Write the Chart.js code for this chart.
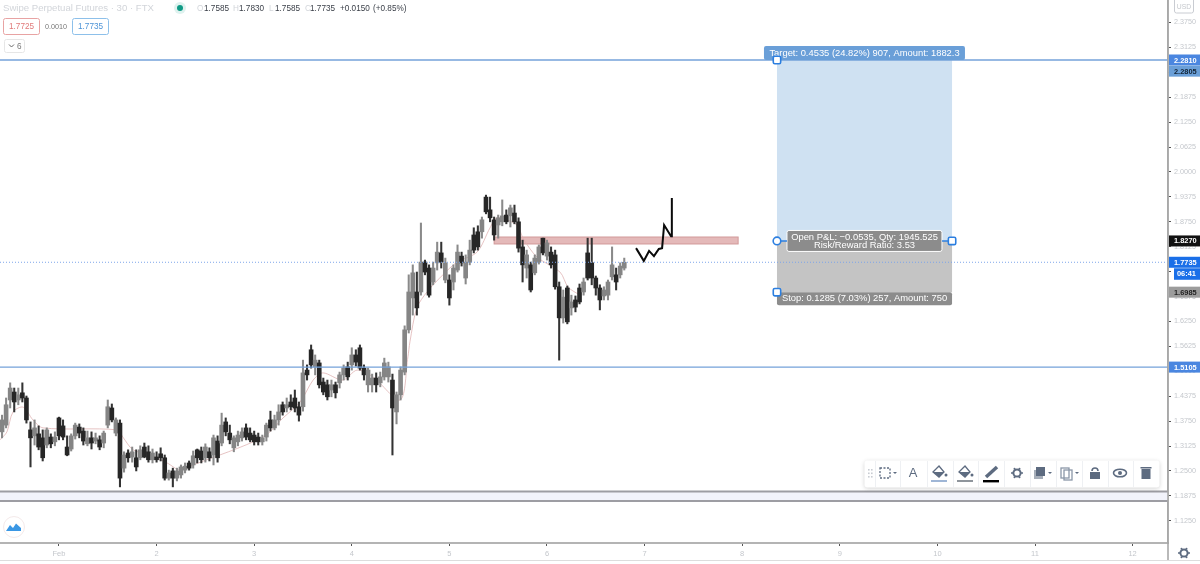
<!DOCTYPE html>
<html><head><meta charset="utf-8">
<style>html,body{margin:0;padding:0;background:#fff;overflow:hidden}canvas{display:block}</style>
<script src="https://cdn.jsdelivr.net/npm/chart.js@4"></script>
</head><body><canvas id="c" width="1200" height="564"></canvas>
<script>
const opens=[1.348,1.365,1.428,1.448,1.428,1.446,1.433,1.353,1.338,1.343,1.333,1.315,1.335,1.323,1.383,1.363,1.310,1.305,1.338,1.360,1.350,1.318,1.333,1.325,1.328,1.320,1.365,1.408,1.345,1.370,1.257,1.295,1.285,1.283,1.283,1.310,1.298,1.278,1.285,1.293,1.283,1.232,1.250,1.232,1.240,1.252,1.270,1.265,1.303,1.300,1.283,1.298,1.290,1.325,1.320,1.373,1.345,1.308,1.323,1.333,1.358,1.345,1.340,1.335,1.323,1.335,1.378,1.358,1.378,1.416,1.408,1.423,1.433,1.411,1.411,1.503,1.554,1.511,1.521,1.473,1.466,1.453,1.466,1.471,1.491,1.511,1.516,1.541,1.559,1.508,1.466,1.466,1.483,1.471,1.486,1.486,1.478,1.398,1.441,1.498,1.604,1.684,1.699,1.699,1.774,1.759,1.724,1.772,1.797,1.729,1.729,1.724,1.754,1.789,1.734,1.774,1.842,1.850,1.850,1.937,1.905,1.880,1.867,1.875,1.892,1.890,1.897,1.875,1.812,1.759,1.767,1.747,1.774,1.834,1.789,1.799,1.792,1.712,1.634,1.709,1.659,1.679,1.709,1.699,1.797,1.772,1.734,1.709,1.689,1.691,1.737,1.742,1.742,1.759];
const closes=[1.378,1.416,1.458,1.423,1.441,1.433,1.378,1.333,1.358,1.310,1.283,1.353,1.318,1.335,1.338,1.335,1.290,1.338,1.365,1.345,1.325,1.333,1.320,1.333,1.310,1.345,1.411,1.378,1.378,1.232,1.290,1.283,1.298,1.260,1.303,1.285,1.278,1.295,1.278,1.283,1.232,1.245,1.232,1.250,1.260,1.262,1.257,1.288,1.283,1.278,1.310,1.283,1.333,1.283,1.365,1.348,1.328,1.333,1.340,1.348,1.335,1.328,1.323,1.323,1.333,1.365,1.358,1.378,1.398,1.398,1.416,1.411,1.408,1.390,1.496,1.491,1.516,1.528,1.466,1.448,1.436,1.466,1.446,1.491,1.508,1.486,1.541,1.523,1.508,1.491,1.503,1.483,1.466,1.486,1.521,1.511,1.408,1.441,1.503,1.604,1.699,1.747,1.659,1.774,1.749,1.691,1.759,1.799,1.774,1.772,1.684,1.759,1.799,1.772,1.774,1.804,1.804,1.812,1.880,1.900,1.885,1.842,1.885,1.890,1.875,1.910,1.875,1.809,1.767,1.792,1.704,1.784,1.812,1.797,1.822,1.767,1.712,1.634,1.686,1.624,1.674,1.661,1.674,1.724,1.734,1.734,1.709,1.679,1.704,1.724,1.767,1.724,1.764,1.7735];
const highs=[1.390,1.433,1.471,1.458,1.458,1.471,1.438,1.373,1.378,1.363,1.353,1.358,1.343,1.348,1.385,1.378,1.338,1.343,1.370,1.368,1.358,1.350,1.348,1.345,1.338,1.350,1.428,1.418,1.383,1.378,1.298,1.303,1.310,1.303,1.313,1.320,1.313,1.305,1.298,1.308,1.290,1.252,1.257,1.257,1.265,1.270,1.275,1.300,1.305,1.310,1.318,1.308,1.340,1.338,1.395,1.383,1.365,1.338,1.350,1.358,1.368,1.358,1.350,1.345,1.340,1.370,1.400,1.390,1.416,1.423,1.433,1.441,1.453,1.423,1.528,1.516,1.566,1.541,1.528,1.483,1.478,1.478,1.473,1.498,1.516,1.523,1.559,1.554,1.566,1.516,1.508,1.493,1.496,1.498,1.533,1.523,1.493,1.448,1.511,1.614,1.742,1.767,1.749,1.872,1.779,1.767,1.774,1.824,1.824,1.784,1.742,1.767,1.817,1.799,1.792,1.829,1.860,1.865,1.887,1.942,1.937,1.887,1.892,1.930,1.905,1.917,1.917,1.885,1.829,1.804,1.774,1.792,1.817,1.834,1.829,1.812,1.804,1.724,1.704,1.714,1.691,1.689,1.719,1.734,1.834,1.834,1.739,1.717,1.712,1.729,1.812,1.759,1.772,1.784];
const lows=[1.333,1.358,1.408,1.398,1.416,1.423,1.370,1.260,1.315,1.303,1.275,1.308,1.308,1.313,1.328,1.328,1.288,1.300,1.330,1.333,1.315,1.313,1.305,1.318,1.303,1.308,1.358,1.373,1.338,1.210,1.247,1.272,1.272,1.250,1.278,1.283,1.272,1.270,1.272,1.275,1.227,1.227,1.210,1.225,1.232,1.245,1.252,1.257,1.270,1.270,1.272,1.275,1.265,1.272,1.313,1.338,1.318,1.298,1.313,1.325,1.328,1.323,1.315,1.315,1.315,1.325,1.350,1.353,1.365,1.390,1.398,1.403,1.398,1.375,1.400,1.478,1.508,1.491,1.458,1.441,1.428,1.436,1.433,1.458,1.478,1.478,1.503,1.513,1.503,1.478,1.448,1.448,1.448,1.461,1.478,1.473,1.290,1.368,1.428,1.491,1.596,1.641,1.641,1.691,1.742,1.686,1.717,1.754,1.759,1.722,1.666,1.704,1.749,1.764,1.719,1.767,1.797,1.804,1.834,1.895,1.875,1.829,1.834,1.865,1.870,1.862,1.870,1.799,1.724,1.734,1.699,1.742,1.769,1.792,1.779,1.759,1.706,1.528,1.621,1.619,1.641,1.649,1.669,1.691,1.729,1.717,1.691,1.654,1.679,1.679,1.729,1.704,1.734,1.754];
const maIndex=[-0.5,1.2,2.7,5.2,7.6,10.1,28.3,29.7,32.2,36.4,40.6,43.8,47,64.2,69.1,73.3,76.5,78.9,83.8,87.3,91.2,97.9,99.8,100.3,102,104.5,108.4,111.9,116.8,120,121.7,126.6,128.1,131.5,137.2,139.2,142.1];
const maValues=[1.328,1.348,1.398,1.410,1.378,1.358,1.353,1.335,1.303,1.290,1.270,1.252,1.265,1.335,1.383,1.423,1.478,1.496,1.478,1.503,1.486,1.428,1.536,1.574,1.659,1.699,1.742,1.774,1.799,1.860,1.885,1.867,1.834,1.787,1.749,1.711,1.691];
const sketchIndex=[155.9,157.8,159.1,160.3,161.5,162.3,162.8,164.5,164.7];
const sketchValues=[1.809,1.777,1.802,1.789,1.807,1.809,1.867,1.839,1.935];
const dayIndex=[14,38,62,86,110,134,158,182,206,230,254,278];
const dayLabels=['Feb','2','3','4','5','6','7','8','9','10','11','12'];
const yTickValues=[2.375,2.3125,2.25,2.1875,2.125,2.0625,2,1.9375,1.875,1.8125,1.75,1.6875,1.625,1.5625,1.5,1.4375,1.375,1.3125,1.25,1.1875,1.125];
const levelLines=[2.2810,1.5105];
const lastPrice=1.7735;
const bandLevels=[1.1984,1.1746];
const zoneLevels=[1.8369,1.8194], zoneRange=[121,181];
const toolRange=[190.55,233.6];
const toolLevels=[2.2810,1.8270,1.6985];
const targetText='Target: 0.4535 (24.82%) 907, Amount: 1882.3';
const stopText='Stop: 0.1285 (7.03%) 257, Amount: 750';
const pnlText='Open P&L: \u22120.0535, Qty: 1945.525';
const ratioText='Risk/Reward Ratio: 3.53';
const priceTags=[['2.2810',2.2810,'#4a86e0','#fff'],['2.2805',2.2530,'#6a9fd8','#123'],['1.8270',1.8270,'#111','#fff'],['1.7735',1.7735,'#1a6fe8','#fff'],['1.6985',1.6985,'#9c9c9c','#222'],['1.5105',1.5105,'#4a86e0','#fff']];
const FONT='"Liberation Sans",sans-serif';
const UP='#858585',DOWN='#262626';

function rr(ctx,x,y,w,h,r){ctx.beginPath();ctx.roundRect(x,y,w,h,r);}
function icon(ctx,x,y,kind){
  ctx.save();ctx.fillStyle='#5d6b80';ctx.strokeStyle='#5d6b80';ctx.lineWidth=1.3;
  if(kind==='rect'){ctx.setLineDash([2,1.5]);ctx.strokeRect(x-5,y-5,10,10);ctx.setLineDash([]);ctx.beginPath();ctx.moveTo(x+8,y-1);ctx.lineTo(x+12,y-1);ctx.lineTo(x+10,y+1);ctx.fill();}
  if(kind==='bucket'){ctx.beginPath();ctx.moveTo(x-6,y);ctx.lineTo(x,y-6);ctx.lineTo(x+5,y);ctx.lineTo(x,y+5);ctx.closePath();ctx.stroke();ctx.beginPath();ctx.moveTo(x-6,y);ctx.lineTo(x+5,y);ctx.lineTo(x,y+5);ctx.closePath();ctx.fill();ctx.beginPath();ctx.arc(x+7,y+3,1.5,0,7);ctx.fill();}
  if(kind==='pencil'){ctx.lineWidth=3.5;ctx.beginPath();ctx.moveTo(x-6,y+5);ctx.lineTo(x+5,y-5);ctx.stroke();}
  if(kind==='gear'){ctx.lineWidth=2;ctx.beginPath();ctx.arc(x,y,3.6,0,7);ctx.stroke();for(let a=0;a<6;a++){const t=a*Math.PI/3;ctx.beginPath();ctx.arc(x+5*Math.cos(t),y+5*Math.sin(t),1,0,7);ctx.fill();}}
  if(kind==='layers'){ctx.globalAlpha=.55;ctx.fillRect(x-6,y-3,9,9);ctx.globalAlpha=1;ctx.fillRect(x-4,y-6,9,9);ctx.beginPath();ctx.moveTo(x+8,y-1);ctx.lineTo(x+12,y-1);ctx.lineTo(x+10,y+1);ctx.fill();}
  if(kind==='copy'){ctx.strokeStyle='#8b97a8';ctx.strokeRect(x-6,y-5,8,10);ctx.strokeRect(x-3,y-3,8,10);ctx.fillStyle='#5d6b80';ctx.beginPath();ctx.moveTo(x+8,y-1);ctx.lineTo(x+12,y-1);ctx.lineTo(x+10,y+1);ctx.fill();}
  if(kind==='lock'){ctx.fillRect(x-5,y-1,10,7);ctx.beginPath();ctx.arc(x,y-2,3,Math.PI,0);ctx.lineWidth=1.6;ctx.stroke();}
  if(kind==='eye'){ctx.lineWidth=1.6;ctx.beginPath();ctx.ellipse(x,y,6.5,3.8,0,0,7);ctx.stroke();ctx.beginPath();ctx.arc(x,y,2,0,7);ctx.fill();}
  if(kind==='trash'){ctx.fillRect(x-4.5,y-4,9,10);ctx.fillRect(x-5.5,y-6,11,1.5);}
  ctx.restore();
}
const overlay={id:'overlay',
  beforeDatasetsDraw(ch){
    const c=ch.ctx,X=ch.scales.x,Y=ch.scales.y,A=ch.chartArea;
    c.save();
    c.fillStyle='#f2f3fb';c.fillRect(A.left,Y.getPixelForValue(bandLevels[0]),A.width,Y.getPixelForValue(bandLevels[1])-Y.getPixelForValue(bandLevels[0]));
    const zx=X.getPixelForValue(zoneRange[0]),zw=X.getPixelForValue(zoneRange[1])-zx,zy=Y.getPixelForValue(zoneLevels[0]),zh=Y.getPixelForValue(zoneLevels[1])-zy;
    c.fillStyle='#e4b9b9';c.fillRect(zx,zy,zw,zh);c.strokeStyle='#d29a9a';c.lineWidth=1;c.strokeRect(zx,zy,zw,zh);
    const lx=X.getPixelForValue(toolRange[0]),rx=X.getPixelForValue(toolRange[1]),ty=Y.getPixelForValue(toolLevels[0]),my=Y.getPixelForValue(toolLevels[1]),by=Y.getPixelForValue(toolLevels[2]);
    c.fillStyle='#cfe1f2';c.fillRect(lx,ty,rx-lx,my-ty);
    c.fillStyle='#c4c4c4';c.fillRect(lx,my,rx-lx,by-my);
    c.restore();
  },
  afterDatasetsDraw(ch){
    const c=ch.ctx,X=ch.scales.x,Y=ch.scales.y,A=ch.chartArea;
    c.save();
    bandLevels.forEach(v=>{const y=Y.getPixelForValue(v);c.strokeStyle='#9d9da3';c.lineWidth=2;c.beginPath();c.moveTo(A.left,y);c.lineTo(A.right,y);c.stroke();});
    levelLines.forEach(v=>{const y=Y.getPixelForValue(v);c.strokeStyle='#74a2da';c.lineWidth=1.3;c.beginPath();c.moveTo(A.left,y);c.lineTo(A.right,y);c.stroke();});
    let y=Y.getPixelForValue(lastPrice);c.strokeStyle='#7ea6ea';c.lineWidth=1;c.setLineDash([1,2]);c.beginPath();c.moveTo(A.left,y);c.lineTo(A.right,y);c.stroke();c.setLineDash([]);
    const lx=X.getPixelForValue(toolRange[0]),rx=X.getPixelForValue(toolRange[1]),ty=Y.getPixelForValue(toolLevels[0]),my=Y.getPixelForValue(toolLevels[1]),by=Y.getPixelForValue(toolLevels[2]),cx=(lx+rx)/2;
    c.textAlign='center';c.textBaseline='middle';
    c.fillStyle='#6a9fd8';rr(c,lx-13,ty-14,201,14,2);c.fill();
    c.fillStyle='#fff';c.font='9.4px '+FONT;c.fillText(targetText,cx,ty-6.5);
    c.fillStyle='#8c8c8c';rr(c,lx,by,rx-lx,13,2);c.fill();
    c.fillStyle='#fff';c.fillText(stopText,cx,by+6.5);
    c.fillStyle='#8c8c8c';c.strokeStyle='#fff';c.lineWidth=1;rr(c,lx+10,my-10.5,155,21,2);c.fill();c.stroke();
    c.fillStyle='#fff';c.fillText(pnlText,cx,my-4);c.fillText(ratioText,cx,my+4);
    c.strokeStyle='#2c7fe0';c.lineWidth=1.6;c.fillStyle='#fff';
    c.beginPath();c.moveTo(lx,my);c.lineTo(lx+10,my);c.moveTo(rx-10,my);c.lineTo(rx,my);c.stroke();
    c.beginPath();c.arc(lx,my,3.8,0,7);c.fill();c.stroke();
    [[lx,ty],[lx,by],[rx,my]].forEach(p=>{rr(c,p[0]-3.7,p[1]-3.7,7.4,7.4,1.5);c.fill();c.stroke();});
    c.restore();
  },
  afterDraw(ch){
    const c=ch.ctx,Y=ch.scales.y,A=ch.chartArea;
    c.save();
    c.strokeStyle='#a8a8a8';c.lineWidth=1.6;c.beginPath();c.moveTo(A.right,0);c.lineTo(A.right,561);c.stroke();
    c.strokeStyle='#dddddd';c.lineWidth=1;c.beginPath();c.moveTo(0,560.5);c.lineTo(1200,560.5);c.stroke();
    c.font='bold 7.4px '+FONT;c.textBaseline='middle';c.textAlign='left';
    priceTags.forEach(t=>{const y=Y.getPixelForValue(t[1]);c.fillStyle=t[2];c.fillRect(A.right+1,y-5.5,32,11);c.fillStyle=t[3];c.fillText(t[0],1174,y+.5);});
    const ly=Y.getPixelForValue(lastPrice);c.fillStyle='#1a6fe8';c.fillRect(1174,ly+6,26,11.5);c.fillStyle='#fff';c.fillText('06:41',1177,ly+12);
    c.font='6.8px '+FONT;c.strokeStyle='#c9ccd2';c.fillStyle='#c4c7cc';c.lineWidth=1;rr(c,1174.5,-2,19,15,2);c.stroke();c.textAlign='center';c.fillText('USD',1184,7.5);
    icon(c,1184,553,'gear');
    // header
    c.textAlign='left';c.textBaseline='middle';
    c.font='9.6px '+FONT;c.fillStyle='#d2d5da';c.fillText('Swipe Perpetual Futures \u00b7 30 \u00b7 FTX',3,8.5);
    c.fillStyle='#dff2ef';c.beginPath();c.arc(180,8,6,0,7);c.fill();c.fillStyle='#0f9a85';c.beginPath();c.arc(180,8,3,0,7);c.fill();
    c.font='8.2px '+FONT;
    [['O','1.7585',197,204],['H','1.7830',233,239],['L','1.7585',269,275],['C','1.7735',305,310]].forEach(g=>{c.fillStyle='#d2d5da';c.fillText(g[0],g[2],8.5);c.fillStyle='#3a3f48';c.fillText(g[1],g[3],8.5);});
    c.fillStyle='#3a3f48';c.fillText('+0.0150',340,8.5);c.fillText('(+0.85%)',373,8.5);
    c.lineWidth=1;
    c.strokeStyle='#e8a3a3';rr(c,3.5,18.5,36,16,2);c.stroke();c.fillStyle='#e07a7a';c.fillText('1.7725',9,27);
    c.fillStyle='#777';c.font='7.2px '+FONT;c.fillText('0.0010',45,27);c.font='8.2px '+FONT;
    c.strokeStyle='#8dc0ea';rr(c,72.5,18.5,36,16,2);c.stroke();c.fillStyle='#4d93d6';c.fillText('1.7735',78,27);
    c.strokeStyle='#e6e6e6';rr(c,4.5,39.5,20,13,2);c.stroke();c.fillStyle='#777';c.fillText('6',17,46.5);
    c.strokeStyle='#666';c.beginPath();c.moveTo(9,44.5);c.lineTo(11.5,47);c.lineTo(14,44.5);c.stroke();
    // logo
    c.fillStyle='#fff';c.strokeStyle='#f3e9e9';c.beginPath();c.arc(14,527,10.5,0,7);c.fill();c.stroke();
    c.fillStyle='#3a97e4';c.beginPath();c.moveTo(6,531);c.lineTo(10,525);c.lineTo(13,528);c.lineTo(16,523.5);c.lineTo(21,528);c.lineTo(21,531);c.closePath();c.fill();
    // toolbar
    c.shadowColor='rgba(0,0,0,.18)';c.shadowBlur=4;c.shadowOffsetY=1;c.fillStyle='#fff';rr(c,864.5,460.5,295,27,3);c.fill();c.shadowColor='transparent';c.shadowBlur=0;c.shadowOffsetY=0;
    c.strokeStyle='#eef0f3';c.lineWidth=1;[875,900,927,953,978,1004,1030,1056,1082,1108,1133].forEach(x=>{c.beginPath();c.moveTo(x+.5,461);c.lineTo(x+.5,487);c.stroke();});
    c.fillStyle='#c8ccd2';for(let i=0;i<3;i++){c.fillRect(868,469+i*3.5,1.6,1.6);c.fillRect(871,469+i*3.5,1.6,1.6);}
    icon(c,885,473,'rect');
    c.font='13px '+FONT;c.fillStyle='#5d6b80';c.textAlign='center';c.fillText('A',913,473);
    icon(c,939,472,'bucket');icon(c,965,472,'bucket');
    c.fillStyle='#9fb6d6';c.fillRect(931,480,16,2);c.fillStyle='#8f959c';c.fillRect(957,480,16,2);
    icon(c,992,472,'pencil');c.fillStyle='#000';c.fillRect(983,480,16,2.4);
    icon(c,1017,473,'gear');icon(c,1040,473,'layers');icon(c,1067,473,'copy');icon(c,1095,473,'lock');icon(c,1120,473,'eye');icon(c,1146,473,'trash');
    c.restore();
  }
};
const idx=opens.map((_,i)=>i);
new Chart(document.getElementById('c'),{
  type:'bar',
  data:{datasets:[
    {label:'wick',data:idx.map(i=>({x:i,y:[lows[i],highs[i]]})),backgroundColor:idx.map(i=>closes[i]>=opens[i]?'#8a8a8a':'#333'),barThickness:1.4,grouped:false,order:3},
    {label:'body',data:idx.map(i=>({x:i,y:[opens[i],closes[i]]})),backgroundColor:idx.map(i=>closes[i]>=opens[i]?UP:DOWN),barThickness:4,grouped:false,order:2},
    {type:'line',label:'ma',data:maIndex.map((x,i)=>({x,y:maValues[i]})),borderColor:'rgba(222,175,175,.75)',borderWidth:1,pointRadius:0,tension:.3,order:4},
    {type:'line',label:'sketch',data:sketchIndex.map((x,i)=>({x,y:sketchValues[i]})),borderColor:'#0a0a0a',borderWidth:2,pointRadius:0,tension:0,order:1}
  ]},
  options:{responsive:false,animation:false,devicePixelRatio:1,layout:{padding:0},
    plugins:{legend:{display:false},tooltip:{enabled:false},title:{display:false}},
    scales:{
      x:{type:'linear',min:-0.5,max:286.7,offset:false,
        grid:{display:true,offset:false,drawOnChartArea:false,drawTicks:true,tickLength:3,tickColor:'#555'},
        border:{color:'#b4b4b4',width:2},
        afterBuildTicks:s=>{s.ticks=dayIndex.map(v=>({value:v}));},
        ticks:{autoSkip:false,maxRotation:0,color:'#c4c7cc',font:{size:7.5,family:FONT},padding:3,callback:v=>{const k=dayIndex.indexOf(v);return k<0?'':dayLabels[k];}},
        afterFit:s=>{s.height=21;s.paddingLeft=0;s.paddingRight=0;}},
      y:{position:'right',min:1.0692,max:2.4315,
        grid:{display:true,drawOnChartArea:false,drawTicks:true,tickLength:3,tickColor:'#555'},
        border:{color:'#a8a8a8',width:1.6},
        afterBuildTicks:s=>{s.ticks=yTickValues.map(v=>({value:v}));},
        ticks:{autoSkip:false,color:'#c4c7cc',font:{size:7.2,family:FONT},padding:3,callback:v=>v.toFixed(4)},
        afterFit:s=>{s.width=32;s.paddingTop=0;s.paddingBottom=0;}}
    }},
  plugins:[overlay]
});
</script></body></html>
